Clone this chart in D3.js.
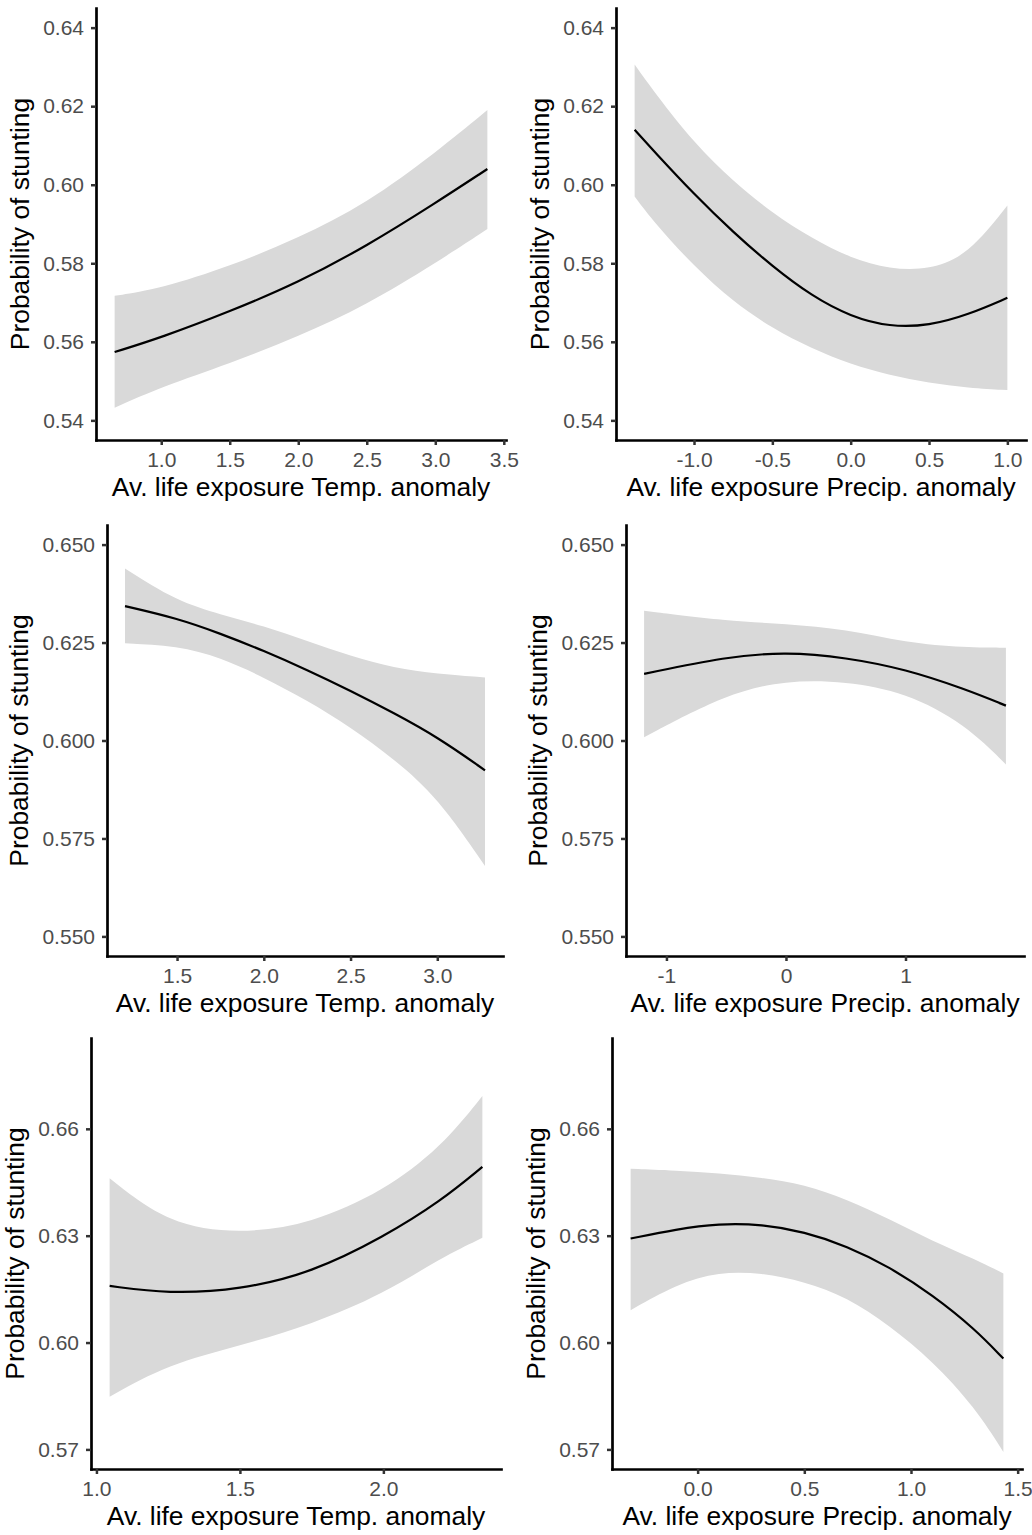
<!DOCTYPE html>
<html>
<head>
<meta charset="utf-8">
<script src="https://cdn.jsdelivr.net/npm/d3@7"></script>
<style>
	body { margin: 0; background: #fff; }
	svg { display: block; font-family: 'Liberation Sans', Arial, sans-serif; }
</style>
</head>
<body>
<div id="chart"></div>
<script>

// Temp. anomaly, panel 1
var temp1X = [0.66, 1.0, 1.5, 2.0, 2.5, 3.0, 3.38];
var temp1Fit = [0.5574, 0.5611, 0.5677, 0.5751, 0.5844, 0.5953, 0.6040];
var temp1Lo = [0.5432, 0.5485, 0.5545, 0.5613, 0.5694, 0.5800, 0.5887];
var temp1Hi = [0.5717, 0.5736, 0.5792, 0.5864, 0.5953, 0.6081, 0.6190];

// Precip. anomaly, panel 2
var prec1X = [-1.379, -1.25, -1.0, -0.75, -0.5, -0.25, 0.0, 0.25, 0.5, 0.75, 1.0];
var prec1Fit = [0.6140, 0.6083, 0.5976, 0.5879, 0.5792, 0.5717, 0.5664, 0.5638, 0.5641, 0.5669, 0.5712];
var prec1Lo = [0.5970, 0.5902, 0.5792, 0.5702, 0.5634, 0.5583, 0.5543, 0.5515, 0.5495, 0.5483, 0.5477];
var prec1Hi = [0.6306, 0.6234, 0.6106, 0.6009, 0.5928, 0.5864, 0.5813, 0.5785, 0.5783, 0.5821, 0.5947];

// Temp. anomaly, panel 3
var temp2X = [1.2, 1.5, 1.75, 2.0, 2.25, 2.5, 2.75, 3.0, 3.275];
var temp2Fit = [0.6343, 0.6312, 0.6273, 0.6229, 0.6180, 0.6127, 0.6070, 0.6009, 0.5924];
var temp2Lo = [0.6248, 0.6242, 0.6212, 0.6161, 0.6102, 0.6034, 0.5953, 0.5856, 0.5680];
var temp2Hi = [0.6439, 0.6355, 0.6322, 0.6292, 0.6254, 0.6216, 0.6185, 0.6170, 0.6161];

// Precip. anomaly, panel 4
var prec2X = [-1.187, -0.5, 0.0, 0.5, 1.0, 1.5, 1.84];
var prec2Fit = [0.6170, 0.6214, 0.6226, 0.6212, 0.6182, 0.6131, 0.6089];
var prec2Lo = [0.6008, 0.6119, 0.6154, 0.6151, 0.6123, 0.6042, 0.5939];
var prec2Hi = [0.6331, 0.6305, 0.6298, 0.6284, 0.6250, 0.6237, 0.6237];

// Temp. anomaly, panel 5
var temp3X = [1.046, 1.25, 1.5, 1.75, 2.0, 2.2, 2.345];
var temp3Fit = [0.6159, 0.6137, 0.6148, 0.6196, 0.6296, 0.6397, 0.6493];
var temp3Lo = [0.5848, 0.5939, 0.5991, 0.6051, 0.6136, 0.6238, 0.6294];
var temp3Hi = [0.6461, 0.6332, 0.6304, 0.6334, 0.6425, 0.6547, 0.6692];

// Precip. anomaly, panel 6
var prec3X = [-0.314, -0.1, 0.1, 0.3, 0.5, 0.7, 0.9, 1.1, 1.3, 1.433];
var prec3Fit = [0.6292, 0.6318, 0.6334, 0.6332, 0.6311, 0.6271, 0.6212, 0.6134, 0.6038, 0.5955];
var prec3Lo = [0.6091, 0.6164, 0.6199, 0.6196, 0.6171, 0.6128, 0.6047, 0.5949, 0.5818, 0.5693];
var prec3Hi = [0.6488, 0.6483, 0.6475, 0.6463, 0.6444, 0.6402, 0.6346, 0.6285, 0.6234, 0.6194];

// axis limits and tick labels
var yLimTop = [0.54, 0.64];
var yLimMid = [0.55, 0.65];
var yLimBot = [0.57, 0.68];
var yTicksTop = ['0.54', '0.56', '0.58', '0.60', '0.62', '0.64'];
var yTicksMid = ['0.550', '0.575', '0.600', '0.625', '0.650'];
var yTicksBot = ['0.57', '0.60', '0.63', '0.66'];
var xTicksTemp1 = ['1.0', '1.5', '2.0', '2.5', '3.0', '3.5'];
var xTicksPrec1 = ['-1.0', '-0.5', '0.0', '0.5', '1.0'];
var xTicksTemp2 = ['1.5', '2.0', '2.5', '3.0'];
var xTicksPrec2 = ['-1', '0', '1'];
var xTicksTemp3 = ['1.0', '1.5', '2.0'];
var xTicksPrec3 = ['0.0', '0.5', '1.0', '1.5'];

var yTitle = 'Probability of stunting';
var xTitleTemp = 'Av. life exposure Temp. anomaly';
var xTitlePrec = 'Av. life exposure Precip. anomaly';

var W = 1032, H = 1535;
var svg = d3.select('#chart').append('svg').attr('width', W).attr('height', H);

function zip(x, fit, lo, hi) {
	return x.map(function(d, i) {
		return { x: d, fit: fit[i], lo: lo[i], hi: hi[i] };
	});
}

function panel(box, rows, ylim, yticks, xticks, xlabel) {

	// ggplot style 5% expansion
	var ext = d3.extent(rows, function(d) { return d.x; });
	var xpad = (ext[1] - ext[0]) * 0.05;
	var ypad = (ylim[1] - ylim[0]) * 0.05;

	var x = d3.scaleLinear().domain([ext[0] - xpad, ext[1] + xpad]).range([box.left, box.right]);
	var y = d3.scaleLinear().domain([ylim[0] - ypad, ylim[1] + ypad]).range([box.bottom, box.top]);

	var area = d3.area().curve(d3.curveBasis)
		.x(function(d) { return x(d.x); })
		.y0(function(d) { return y(d.lo); })
		.y1(function(d) { return y(d.hi); });

	var line = d3.line().curve(d3.curveBasis)
		.x(function(d) { return x(d.x); })
		.y(function(d) { return y(d.fit); });

	var g = svg.append('g');

	g.append('path').datum(rows).attr('d', area).style('fill', '#D9D9D9');
	g.append('path').datum(rows).attr('d', line).style('fill', 'none').style('stroke', '#000').style('stroke-width', 2.2);

	var xaxis = g.append('g').attr('transform', 'translate(0,' + box.bottom + ')')
		.call(d3.axisBottom(x).tickValues(xticks.map(Number)).tickFormat(function(d, i) { return xticks[i]; }).tickSize(5).tickSizeOuter(0).tickPadding(7));

	var yaxis = g.append('g').attr('transform', 'translate(' + box.left + ',0)')
		.call(d3.axisLeft(y).tickValues(yticks.map(Number)).tickFormat(function(d, i) { return yticks[i]; }).tickSize(5).tickSizeOuter(0).tickPadding(7));

	[xaxis, yaxis].forEach(function(a) {
		a.select('.domain').style('stroke', '#000').style('stroke-width', 2.7).style('stroke-linecap', 'square');
		a.selectAll('.tick line').style('stroke', '#333').style('stroke-width', 2.5);
		a.selectAll('.tick text').style('fill', '#4D4D4D').style('font-size', '21px').style('font-family', null);
	});

	var bb = yaxis.node().getBBox();
	var tx = box.left + bb.x - 14;

	g.append('text')
		.attr('transform', 'translate(' + tx + ',' + ((box.top + box.bottom) / 2) + ') rotate(-90)')
		.attr('text-anchor', 'middle')
		.style('font-size', '26.4px')
		.style('fill', '#000')
		.text(yTitle);

	g.append('text')
		.attr('x', (box.left + box.right) / 2)
		.attr('y', box.bottom + 56)
		.attr('text-anchor', 'middle')
		.style('font-size', '26.4px')
		.style('fill', '#000')
		.text(xlabel);
}

var boxes = [
	{ left: 96, top: 8, right: 506, bottom: 440 },
	{ left: 616, top: 8, right: 1026, bottom: 440 },
	{ left: 107, top: 525, right: 503, bottom: 956 },
	{ left: 626, top: 525, right: 1024, bottom: 956 },
	{ left: 91, top: 1038, right: 501, bottom: 1469 },
	{ left: 612, top: 1038, right: 1022, bottom: 1469 }
];

panel(boxes[0], zip(temp1X, temp1Fit, temp1Lo, temp1Hi), yLimTop, yTicksTop, xTicksTemp1, xTitleTemp);
panel(boxes[1], zip(prec1X, prec1Fit, prec1Lo, prec1Hi), yLimTop, yTicksTop, xTicksPrec1, xTitlePrec);
panel(boxes[2], zip(temp2X, temp2Fit, temp2Lo, temp2Hi), yLimMid, yTicksMid, xTicksTemp2, xTitleTemp);
panel(boxes[3], zip(prec2X, prec2Fit, prec2Lo, prec2Hi), yLimMid, yTicksMid, xTicksPrec2, xTitlePrec);
panel(boxes[4], zip(temp3X, temp3Fit, temp3Lo, temp3Hi), yLimBot, yTicksBot, xTicksTemp3, xTitleTemp);
panel(boxes[5], zip(prec3X, prec3Fit, prec3Lo, prec3Hi), yLimBot, yTicksBot, xTicksPrec3, xTitlePrec);

</script>
</body>
</html>
